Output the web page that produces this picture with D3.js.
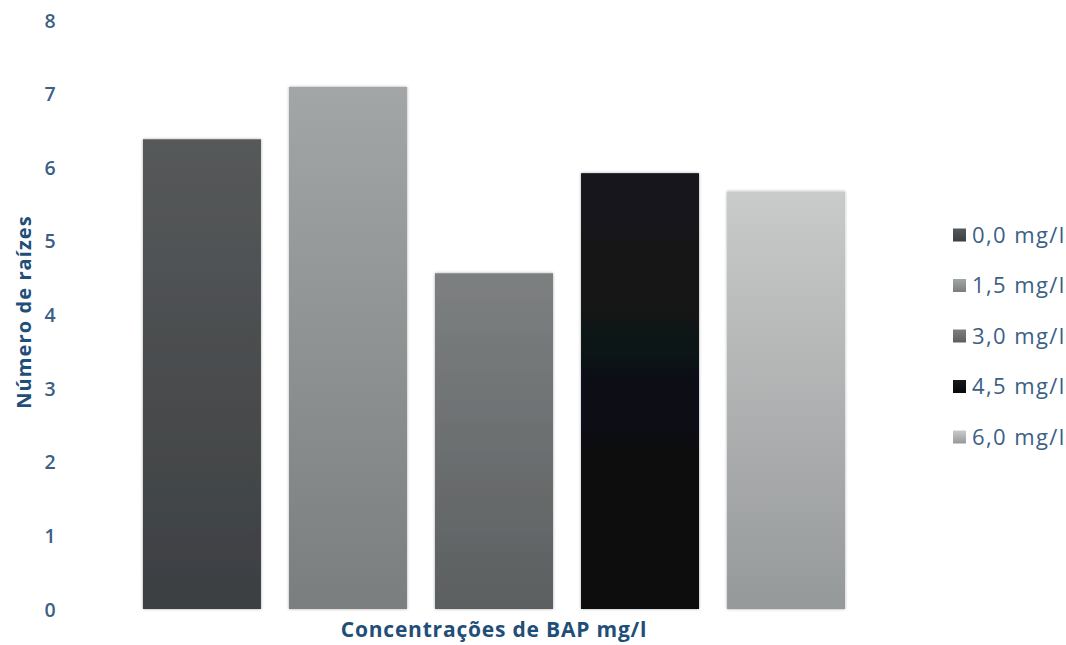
<!DOCTYPE html>
<html>
<head>
<meta charset="utf-8">
<script src="https://cdn.jsdelivr.net/npm/d3@7"></script>
<style>
  html, body { margin: 0; padding: 0; background: #fff; }
  svg { display: block; }
</style>
</head>
<body>
<svg id="chart" width="1066" height="645"></svg>
<script>
// Root count per BAP concentration
const categories = ["0,0 mg/l", "1,5 mg/l", "3,0 mg/l", "4,5 mg/l", "6,0 mg/l"];
const values = [6.38, 7.09, 4.56, 5.92, 5.67];
const yTicks = [0, 1, 2, 3, 4, 5, 6, 7, 8];
// top / bottom shades of each bar's vertical gradient
const shadeTop = ["#56595a", "#a3a6a7", "#7d8081", "#17191c", "#c9caca"];
const shadeBottom = ["#3c3f42", "#7b7e7f", "#5c5f60", "#07080b", "#96999a"];

const svg = d3.select("#chart");
const textColor = "#3b5f86";
const titleColor = "#1f4e79";
const font = "'Open Sans', 'Liberation Sans', sans-serif";

const x = d3.scaleBand().domain(categories).range([124, 864]).paddingInner(0.192).paddingOuter(0.13);
const y = d3.scaleLinear().domain([0, 8]).range([609, 20]);

const defs = svg.append("defs");
categories.forEach((c, i) => {
  const g = defs.append("linearGradient").attr("id", "grad" + i)
    .attr("x1", 0).attr("y1", 0).attr("x2", 0).attr("y2", 1);
  g.append("stop").attr("offset", "0%").attr("stop-color", shadeTop[i]);
  g.append("stop").attr("offset", "100%").attr("stop-color", shadeBottom[i]);
});
const shadow = defs.append("filter").attr("id", "shadow")
  .attr("x", "-10%").attr("y", "-10%").attr("width", "120%").attr("height", "120%");
shadow.append("feDropShadow").attr("dx", 0).attr("dy", 0).attr("stdDeviation", 1.6)
  .attr("flood-color", "#000").attr("flood-opacity", 0.35);

// bars
svg.append("g").selectAll("rect").data(values).join("rect")
  .attr("x", (d, i) => x(categories[i]))
  .attr("y", d => y(d))
  .attr("width", x.bandwidth())
  .attr("height", d => y(0) - y(d))
  .attr("fill", (d, i) => `url(#grad${i})`)
  .attr("filter", "url(#shadow)");

// y axis (labels only)
const yAxis = d3.axisLeft(y).tickValues(yTicks).tickSize(0).tickPadding(0).tickFormat(d3.format("d"));
const gy = svg.append("g").attr("transform", "translate(58,0)").call(yAxis);
gy.select(".domain").remove();
gy.selectAll("text")
  .attr("fill", textColor).attr("font-family", font).attr("font-size", 19.5)
  .attr("font-weight", 600)
  .attr("text-anchor", "middle").attr("dx", -8).attr("dy", "0.36em");

// axis titles
svg.append("text")
  .attr("x", 494).attr("y", 637)
  .attr("text-anchor", "middle")
  .attr("fill", titleColor).attr("font-family", font).attr("font-weight", "bold")
  .attr("font-size", 21).attr("letter-spacing", 0.8)
  .text("Concentrações de BAP mg/l");

svg.append("text")
  .attr("transform", "translate(31,312) rotate(-90)")
  .attr("text-anchor", "middle")
  .attr("fill", titleColor).attr("font-family", font).attr("font-weight", "bold")
  .attr("font-size", 20).attr("letter-spacing", 1.1)
  .text("Número de raízes");

// legend
const legend = svg.append("g").selectAll("g").data(categories).join("g")
  .attr("transform", (d, i) => `translate(953,${235 + i * 50.5})`);
legend.append("rect")
  .attr("x", 0).attr("y", -6.5).attr("width", 13).attr("height", 13)
  .attr("fill", (d, i) => `url(#grad${i})`);
legend.append("text")
  .attr("x", 19).attr("y", 0).attr("dy", "0.36em")
  .attr("fill", textColor).attr("font-family", font).attr("font-size", 22)
  .attr("letter-spacing", 1.4)
  .text(d => d);
</script>
</body>
</html>
